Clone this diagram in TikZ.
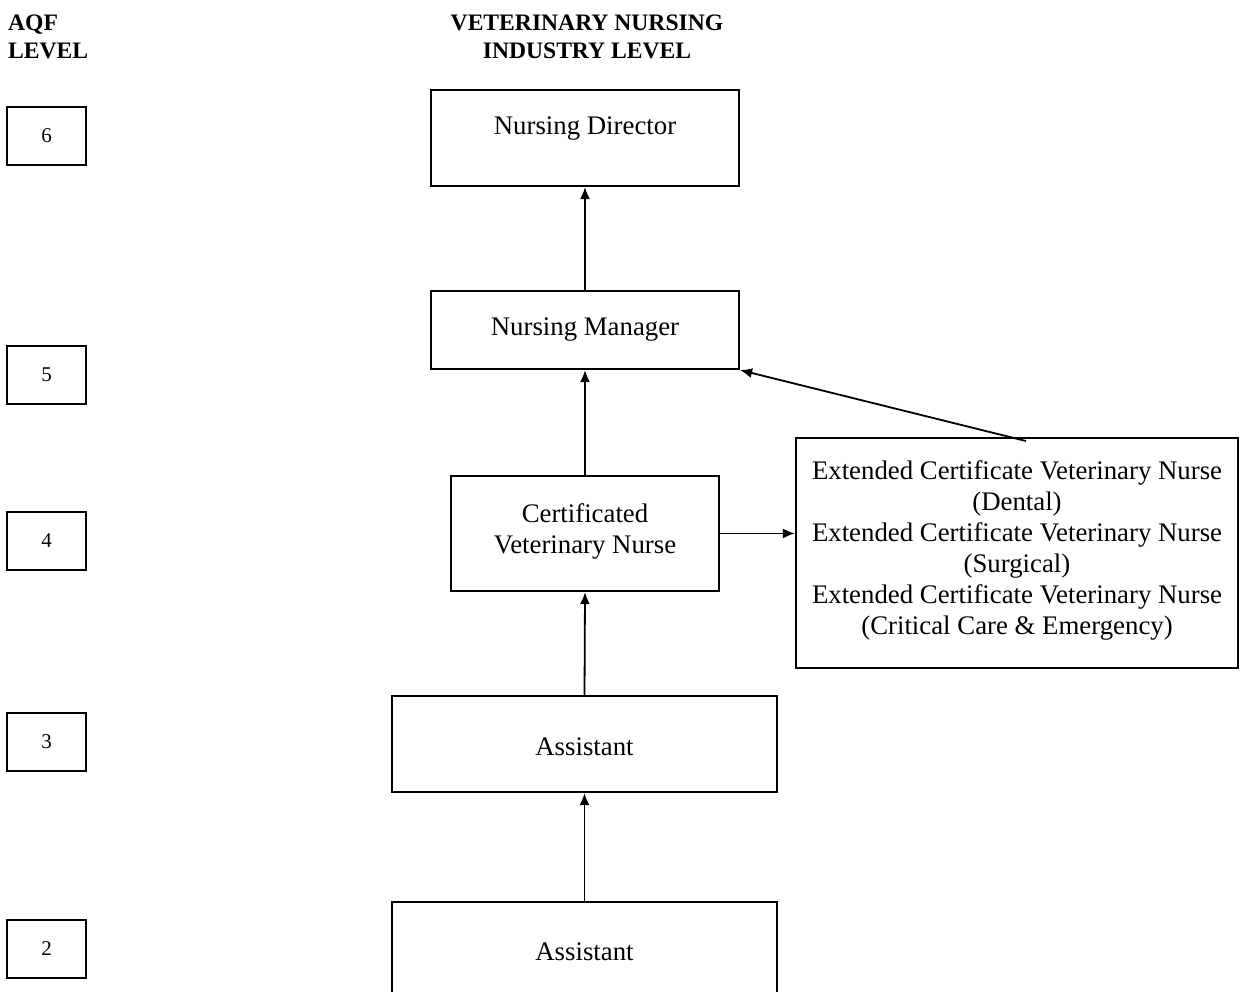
\documentclass[tikz,border=0pt]{standalone}
\usepackage{fontspec}
\setmainfont{Liberation Serif}
\usetikzlibrary{arrows.meta}
\begin{document}
\begin{tikzpicture}[x=1pt,y=-1pt,
  box/.style={draw,line width=2.2pt,inner sep=0pt},
  lvl/.style={draw,line width=2.2pt,minimum width=79pt,minimum height=58pt,inner sep=0pt,font=\fontsize{21}{25}\selectfont},
  txt/.style={font=\fontsize{26.8}{31}\selectfont,align=center,inner sep=0pt},
  hdr/.style={font=\bfseries\fontsize{23.6}{28}\selectfont,inner sep=0pt},
  arr/.style={line width=1.8pt,-{Latex[length=12pt,width=10pt]}}]
\useasboundingbox (0,0) rectangle (1244,992);
\fill[white] (0,0) rectangle (1244,992);
\clip (0,0) rectangle (1244,992);

% headers
\node[hdr,align=left,anchor=north west] (hAQF) at (8,15) {AQF\\LEVEL};
\node[hdr,align=center,anchor=north] (hVN) at (587,15) {VETERINARY NURSING\\INDUSTRY LEVEL};

% AQF level boxes
\node[lvl] (l6) at (46.5,136) {6};
\node[lvl] (l5) at (46.5,375) {5};
\node[lvl] (l4) at (46.5,541) {4};
\node[lvl] (l3) at (46.5,742) {3};
\node[lvl] (l2) at (46.5,949) {2};

% industry boxes
\node[box,minimum width=308pt,minimum height=96pt] (dir) at (585,138) {};
\node[txt] (dirT) at (585,129) {Nursing Director};

\node[box,minimum width=308pt,minimum height=78pt] (mgr) at (585,330) {};
\node[txt] (mgrT) at (585,330) {Nursing Manager};

\node[box,minimum width=268pt,minimum height=115pt] (cert) at (585,533.5) {};
\node[txt] (certT) at (585,531) {Certificated\\Veterinary Nurse};

\node[box,minimum width=442pt,minimum height=230pt] (ext) at (1017,553) {};
\node[txt] (extT) at (1017,550) {Extended Certificate Veterinary Nurse\\(Dental)\\Extended Certificate Veterinary Nurse\\(Surgical)\\Extended Certificate Veterinary Nurse\\(Critical Care \& Emergency)};

\node[box,minimum width=385pt,minimum height=96pt] (a3) at (584.5,744) {};
\node[txt] (a3T) at (584.5,747) {Assistant};

\node[box,minimum width=385pt,minimum height=96pt] (a2) at (584.5,950) {};
\node[txt] (a2T) at (584.5,952) {Assistant};

\coordinate (extTop) at (1026,441);

% connectors
\draw[arr] (mgr.north) -- (dir.south);
\draw[arr] (cert.north) -- (mgr.south);
\draw[arr] (a3.north) -- (cert.south);
\draw[arr] (a2.north) -- (a3.south);
\draw[arr] (cert.east) -- (cert.east -| ext.west);
\draw[arr] (extTop) -- (mgr.south east);
\end{tikzpicture}
\end{document}
